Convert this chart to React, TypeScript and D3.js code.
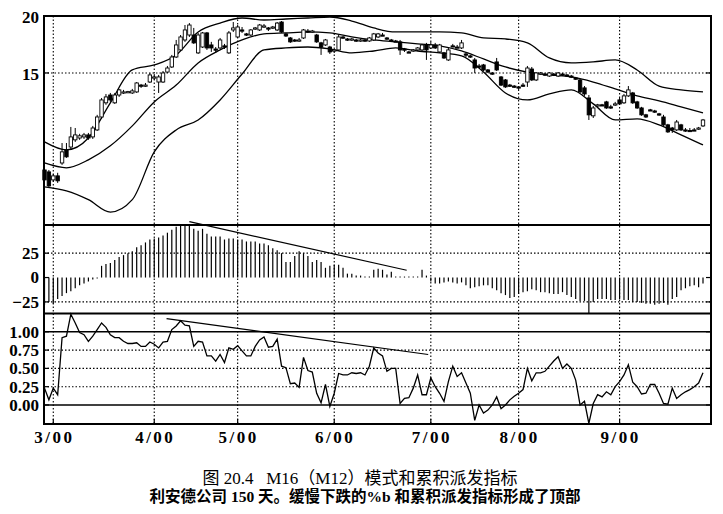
import React from "react";
import * as d3 from "d3";

// Daily bars, 150 sessions (end of Feb 2000 to end of Sep 2000)
const opens = [
  9.19, 9.10, 8.74, 8.92, 9.52, 10.17, 10.32, 10.70, 10.80, 10.86,
  10.97, 10.86, 11.25, 12.01, 12.90, 13.42, 12.90, 13.42, 13.56, 13.63,
  13.56, 13.63, 14.11, 14.04, 14.33, 14.62, 14.33, 14.33, 15.07, 15.46,
  16.26, 16.85, 17.72, 18.17, 18.17, 16.60, 17.10, 18.36, 17.28, 16.93,
  17.02, 17.20, 16.60, 18.64, 17.99, 18.64, 18.27, 18.17, 18.73, 18.64,
  18.92, 18.83, 18.83, 18.64, 19.40, 18.27, 17.90, 17.72, 17.63, 17.90,
  18.54, 18.45, 18.17, 17.46, 17.28, 17.10, 16.76, 16.85, 17.99, 17.81,
  17.72, 17.72, 17.63, 17.72, 17.63, 17.72, 17.99, 18.17, 17.90, 17.72,
  17.63, 17.55, 16.93, 16.68, 16.76, 16.85, 16.85, 17.28, 17.02, 17.28,
  16.68, 16.60, 16.02, 17.20, 17.10, 17.02, 16.51, 16.35, 16.02, 15.54,
  15.62, 15.23, 15.00, 15.86, 14.70, 14.48, 14.11, 14.04, 13.98, 14.11,
  14.33, 15.30, 14.48, 14.92, 14.92, 14.77, 14.92, 14.77, 14.92, 14.85,
  14.77, 14.62, 14.48, 13.91, 13.22, 12.08, 12.70, 12.77, 12.96, 12.64,
  12.77, 13.09, 12.90, 13.36, 13.56, 12.96, 12.57, 12.14, 12.45, 12.38,
  12.20, 12.01, 11.54, 11.36, 11.25, 11.54, 11.25, 11.22, 11.25, 11.31,
  11.48,
];
const highs = [
  9.29, 9.19, 9.01, 9.06, 10.53, 10.53, 11.42, 11.36, 11.03, 11.08,
  11.08, 11.48, 12.14, 13.22, 13.49, 13.56, 13.56, 13.84, 13.77, 13.70,
  13.84, 14.33, 14.19, 14.26, 15.00, 14.92, 14.85, 15.15, 15.54, 16.43,
  17.72, 18.17, 19.11, 19.30, 18.83, 18.36, 18.45, 18.45, 17.55, 17.10,
  17.90, 17.37, 18.54, 19.40, 19.11, 18.92, 18.36, 18.73, 18.92, 19.21,
  19.21, 18.92, 19.02, 19.40, 19.50, 18.36, 17.99, 17.81, 17.90, 18.73,
  18.73, 18.64, 18.27, 17.55, 17.81, 17.20, 16.93, 18.17, 18.08, 17.90,
  17.90, 17.81, 17.81, 17.81, 17.99, 18.36, 18.36, 18.36, 17.99, 17.81,
  17.72, 17.72, 17.02, 16.76, 16.93, 17.10, 17.37, 17.46, 17.55, 17.46,
  17.37, 16.68, 17.02, 17.37, 17.28, 17.72, 16.60, 16.43, 16.18, 15.70,
  15.70, 15.30, 15.07, 16.18, 14.77, 14.55, 14.19, 14.11, 14.04, 14.26,
  15.54, 15.46, 15.07, 15.07, 15.00, 15.07, 15.00, 15.07, 15.00, 14.92,
  14.85, 14.70, 14.55, 14.04, 13.42, 12.70, 12.83, 12.83, 13.03, 12.77,
  12.96, 13.22, 13.49, 14.04, 13.63, 13.03, 12.64, 12.20, 12.51, 12.45,
  12.26, 12.14, 11.60, 11.42, 11.83, 11.60, 11.36, 11.36, 11.36, 11.42,
  11.89,
];
const lows = [
  8.66, 8.40, 8.66, 8.61, 9.43, 9.77, 10.22, 10.59, 10.70, 10.75,
  10.70, 10.75, 11.19, 11.89, 12.77, 12.96, 12.83, 13.29, 13.49, 13.56,
  13.49, 13.56, 13.91, 13.98, 14.26, 14.48, 13.56, 14.26, 15.00, 15.38,
  16.18, 16.76, 17.55, 17.99, 17.37, 16.51, 17.02, 16.85, 16.68, 16.60,
  16.93, 16.93, 16.51, 18.45, 17.90, 18.36, 18.08, 18.08, 18.64, 18.54,
  18.83, 18.54, 18.73, 18.54, 18.36, 17.99, 17.46, 17.55, 17.55, 17.81,
  18.36, 18.36, 17.46, 16.43, 17.20, 16.51, 16.60, 16.76, 17.81, 17.63,
  17.63, 17.55, 17.55, 17.55, 17.55, 17.63, 17.90, 18.08, 17.72, 17.63,
  17.55, 16.43, 16.68, 16.60, 16.68, 16.76, 16.76, 16.02, 16.93, 16.93,
  16.60, 16.10, 15.94, 17.10, 17.02, 16.93, 16.26, 16.18, 15.00, 15.38,
  15.15, 15.00, 14.85, 15.15, 14.04, 13.91, 13.98, 13.91, 13.77, 13.98,
  13.98, 14.40, 14.40, 14.85, 14.77, 14.70, 14.77, 14.70, 14.77, 14.70,
  14.62, 14.48, 13.56, 13.36, 11.83, 11.95, 12.64, 12.70, 12.51, 12.51,
  12.70, 12.77, 12.83, 13.29, 12.83, 12.51, 12.08, 11.95, 12.38, 12.26,
  12.08, 11.48, 11.08, 11.08, 11.19, 11.19, 11.14, 11.14, 11.19, 11.25,
  11.42,
];
const closes = [
  8.74, 8.48, 8.92, 8.70, 10.07, 9.82, 10.86, 10.97, 10.92, 10.97,
  10.80, 11.36, 12.01, 13.09, 13.29, 13.09, 13.42, 13.77, 13.63, 13.65,
  13.70, 14.26, 14.04, 14.11, 14.85, 14.70, 14.70, 15.00, 15.38, 16.26,
  17.28, 17.99, 18.64, 19.11, 17.46, 18.17, 18.36, 17.02, 17.02, 16.85,
  17.72, 17.10, 18.36, 18.83, 18.92, 18.54, 18.17, 18.64, 18.83, 19.11,
  19.02, 18.73, 18.92, 19.30, 18.45, 18.08, 17.55, 17.63, 17.72, 18.64,
  18.45, 18.54, 17.55, 17.10, 17.72, 16.68, 16.85, 17.99, 17.90, 17.72,
  17.81, 17.63, 17.72, 17.63, 17.90, 18.27, 18.27, 18.15, 17.81, 17.70,
  17.60, 16.85, 16.85, 16.66, 16.85, 17.02, 17.28, 16.85, 17.28, 17.02,
  17.28, 16.18, 16.85, 17.18, 17.08, 17.46, 16.43, 16.26, 15.38, 15.46,
  15.23, 15.07, 14.92, 15.23, 14.11, 13.98, 14.04, 13.98, 13.91, 14.04,
  15.38, 14.48, 15.00, 15.00, 14.85, 15.00, 14.85, 15.00, 14.85, 14.77,
  14.70, 14.55, 13.63, 13.49, 12.14, 12.57, 12.77, 12.75, 12.57, 12.62,
  12.83, 12.83, 13.36, 13.77, 12.90, 12.57, 12.14, 12.01, 12.43, 12.32,
  12.14, 11.54, 11.14, 11.25, 11.71, 11.25, 11.19, 11.20, 11.23, 11.36,
  11.83,
];

// Bollinger bands, read every 5th session
const bandStep = 5;
const upperBand = [
  10.59, 10.17, 10.80, 12.90, 15.23, 15.62, 16.43, 18.45, 19.30, 19.80,
  19.60, 19.70, 19.80, 19.90, 19.50, 18.83, 18.45, 18.45, 18.45, 18.36,
  17.90, 17.81, 17.46, 16.18, 15.78, 15.86, 16.02, 15.23, 14.04, 13.77,
  13.63,
];
const middleBand = [
  9.52, 9.29, 9.67, 10.38, 11.48, 12.96, 14.11, 15.78, 16.85, 17.72,
  18.27, 18.36, 18.45, 18.36, 17.99, 17.72, 17.55, 17.37, 17.20, 16.76,
  16.10, 15.46, 15.07, 14.85, 14.70, 14.33, 13.84, 13.36, 13.03, 12.64,
  12.26,
];
const lowerBand = [
  8.44, 8.27, 7.91, 7.43, 7.91, 10.07, 11.25, 11.83, 13.09, 14.92,
  16.85, 17.02, 17.10, 16.93, 16.60, 16.76, 17.02, 16.76, 16.60, 16.35,
  15.07, 13.56, 13.09, 13.49, 13.77, 12.83, 11.83, 11.89, 11.54, 10.97,
  10.43,
];

// Accumulation / distribution oscillator
const adValues = [
  -28, -25, -27, -22, -19, -16, -14, -11, -8, -6, -4, -2, -1,
  12, 14, 15, 18, 21, 23, 25, 27, 31, 33, 36, 39, 40, 41, 43, 46, 49, 52, 54, 54, 54,
  50, 48, 50, 45, 42, 42, 42, 39, 40, 40, 39, 39, 37, 37, 37, 35, 35, 33, 30, 28,
  25, 16, 16, 22, 27, 25, 22, 16, 18, 16, 10, 12, 13, 13, 10, 4, 4, 2,
  2, 1, 1, 8, 9, 8, 3, 6, 1, 1,
  1, 1, 1, 1, 8, 2, -4, -6, -6, -5,
  -4, -5, -6, -5, -8, -11, -10, -9, -8, -8,
  -11, -13, -16, -18, -21, -20, -17, -15, -14, -12,
  -13, -15, -15, -16, -17, -17, -15, -18, -20, -22,
  -24, -24, -37, -25, -22, -22, -22, -23, -23, -22,
  -23, -23, -25, -25, -26, -27, -27, -28, -27, -26,
  -28, -22, -20, -13, -11, -9, -8, -10, -6,
];

// %b
const pctB = [
  0.23, 0.07, 0.23, 0.14, 0.92, 0.94, 1.24, 1.12, 0.99, 0.96,
  0.87, 0.94, 1.03, 1.12, 1.06, 0.96, 0.92, 0.92, 0.87, 0.84,
  0.84, 0.85, 0.80, 0.80, 0.86, 0.83, 0.78, 0.86, 0.87, 1.03,
  1.08, 1.15, 1.09, 1.08, 0.80, 0.87, 0.86, 0.67, 0.67, 0.60,
  0.69, 0.58, 0.78, 0.76, 0.81, 0.74, 0.67, 0.67, 0.80, 0.89,
  0.93, 0.79, 0.80, 0.90, 0.53, 0.51, 0.29, 0.30, 0.24, 0.65,
  0.47, 0.45, 0.16, 0.03, 0.28, -0.02, 0.16, 0.43, 0.41, 0.41,
  0.44, 0.43,
  0.44, 0.41, 0.53, 0.78, 0.71, 0.67, 0.46, 0.50, 0.50, 0.02,
  0.09, 0.10, 0.23, 0.41, 0.14, 0.14, 0.37, 0.25, 0.16, 0.05,
  0.32, 0.53, 0.39, 0.44, 0.30, 0.16, -0.21, 0.00, -0.11, -0.07,
  0.00, 0.11, -0.05, 0.00, 0.07, 0.12, 0.16, 0.21, 0.50, 0.33,
  0.44, 0.44, 0.46, 0.53, 0.60, 0.66, 0.50, 0.56, 0.50, 0.34,
  0.00, 0.05, -0.25, 0.02, 0.14, 0.11, 0.18, 0.14, 0.25, 0.32,
  0.41, 0.55, 0.31, 0.25, 0.15, 0.16, 0.28, 0.28, 0.16, 0.02,
  0.01, 0.23, 0.09, 0.14, 0.18, 0.21, 0.25, 0.30, 0.44,
];

// session index of the first trading day of each month
const monthIndex = [2, 25, 44, 66, 88, 108, 131];
const monthLabels = ["3/00", "4/00", "5/00", "6/00", "7/00", "8/00", "9/00"];
const priceTicks = [20, 15];
const adTicks = [25, 0, -25];
const pctTicks = [1.0, 0.75, 0.5, 0.25, 0.0];

// hand-drawn divergence lines [session, value]
const adTrend: [number, number][] = [[33, 57.3], [82.5, 7.5]];
const pctTrend: [number, number][] = [[27.8, 1.18], [87.4, 0.69]];

const title = "图 20.4   M16（M12）模式和累积派发指标";
const subtitle = "利安德公司 150 天。缓慢下跌的%b 和累积派发指标形成了顶部";

const serif = "'Liberation Serif', 'DejaVu Serif', serif";
const cjk = "'Liberation Serif', 'Noto Sans CJK SC', serif";

export default function App() {
  const width = 723;
  const height = 514;
  const left = 44;
  const right = 711;
  const top = 16;
  const split1 = 225;
  const split2 = 313.5;
  const bottom = 424;

  const x = d3.scaleLinear().domain([0, 150]).range([44.5, 703]);
  const yPrice = d3.scaleLog().domain([6.96, 20]).range([split1, top]);
  const yAD = d3.scaleLinear().domain([-36.9, 53.9]).range([split2, split1]);
  const yPct = d3.scaleLinear().domain([-0.26, 1.25]).range([bottom, split2]);

  const band = d3.line<number>()
    .x((_, i) => x(i * bandStep))
    .y(d => yPrice(d))
    .curve(d3.curveMonotoneX);

  const pctLine = d3.line<number>()
    .x((_, i) => x(i))
    .y(d => yPct(d));

  const labelStyle = {
    fontFamily: serif,
    fontSize: 17,
    fontWeight: "bold" as const,
  };

  const dotted = { stroke: "#000", strokeWidth: 1.1, strokeDasharray: "1.5 2" };

  return (
    <svg
      width={width}
      height={height}
      style={{ position: "absolute", left: 0, top: 0, background: "#fff" }}
    >
      <rect x={0} y={0} width={width} height={height} fill="#fff" />

      {/* month grid */}
      {monthIndex.map((m, i) => (
        <line key={"vg" + i} x1={x(m)} x2={x(m)} y1={top} y2={bottom} {...dotted} />
      ))}

      {/* horizontal grid */}
      <line x1={left} x2={right} y1={yPrice(15)} y2={yPrice(15)} {...dotted} />
      {[25, -25].map(v => (
        <line key={"ag" + v} x1={left} x2={right} y1={yAD(v)} y2={yAD(v)} {...dotted} />
      ))}
      {[0.75, 0.5, 0.25].map(v => (
        <line key={"pg" + v} x1={left} x2={right} y1={yPct(v)} y2={yPct(v)} {...dotted} />
      ))}
      {[1, 0].map(v => (
        <line key={"ps" + v} x1={left} x2={right} y1={yPct(v)} y2={yPct(v)} stroke="#000" strokeWidth={1.6} />
      ))}

      {/* bands */}
      {[upperBand, middleBand, lowerBand].map((b, i) => (
        <path key={"band" + i} d={band(b) || ""} fill="none" stroke="#000" strokeWidth={1.3} />
      ))}

      {/* candles */}
      {closes.map((c, i) => {
        const o = opens[i];
        const cx = x(i);
        const yTop = yPrice(Math.max(o, c));
        const yBot = yPrice(Math.min(o, c));
        const up = c >= o;
        return (
          <g key={"c" + i}>
            <line x1={cx} x2={cx} y1={yPrice(highs[i])} y2={yPrice(lows[i])} stroke="#000" strokeWidth={1} />
            <rect
              x={cx - 1.7}
              y={yTop}
              width={3.4}
              height={Math.max(1.2, yBot - yTop)}
              fill={up ? "#fff" : "#000"}
              stroke="#000"
              strokeWidth={0.9}
            />
          </g>
        );
      })}

      {/* A/D histogram */}
      {adValues.map((v, i) => (
        <line key={"h" + i} x1={x(i)} x2={x(i)} y1={yAD(0)} y2={yAD(v)} stroke="#000" strokeWidth={1.2} />
      ))}
      <line
        x1={x(adTrend[0][0])} y1={yAD(adTrend[0][1])}
        x2={x(adTrend[1][0])} y2={yAD(adTrend[1][1])}
        stroke="#000" strokeWidth={1.2}
      />

      {/* %b */}
      <path d={pctLine(pctB) || ""} fill="none" stroke="#000" strokeWidth={1.3} />
      <line
        x1={x(pctTrend[0][0])} y1={yPct(pctTrend[0][1])}
        x2={x(pctTrend[1][0])} y2={yPct(pctTrend[1][1])}
        stroke="#000" strokeWidth={1.2}
      />

      {/* frame */}
      <rect x={left} y={top} width={right - left} height={bottom - top} fill="none" stroke="#000" strokeWidth={2} />
      <line x1={left} x2={right} y1={split1} y2={split1} stroke="#000" strokeWidth={2} />
      <line x1={left} x2={right} y1={split2} y2={split2} stroke="#000" strokeWidth={2} />

      {/* ticks on both sides */}
      {[
        ...priceTicks.map(v => yPrice(v)),
        ...adTicks.map(v => yAD(v)),
        ...pctTicks.map(v => yPct(v)),
      ].map((yy, i) => (
        <g key={"t" + i}>
          <line x1={left} x2={left + 5} y1={yy} y2={yy} stroke="#000" strokeWidth={1.2} />
          <line x1={right - 5} x2={right} y1={yy} y2={yy} stroke="#000" strokeWidth={1.2} />
        </g>
      ))}
      {monthIndex.map((m, i) => (
        <line key={"xt" + i} x1={x(m)} x2={x(m)} y1={bottom - 5} y2={bottom} stroke="#000" strokeWidth={1.2} />
      ))}

      {/* axis labels */}
      {priceTicks.map(v => (
        <text key={"pl" + v} x={39} y={yPrice(v) + 1.5} dy="0.35em" textAnchor="end" {...labelStyle}>
          {v}
        </text>
      ))}
      {adTicks.map(v => (
        <text key={"al" + v} x={39} y={yAD(v)} dy="0.35em" textAnchor="end" {...labelStyle}>
          {v < 0 ? "\u2212" + Math.abs(v) : v}
        </text>
      ))}
      {pctTicks.map(v => (
        <text key={"ql" + v} x={39} y={yPct(v)} dy="0.35em" textAnchor="end" {...labelStyle}>
          {d3.format(".2f")(v)}
        </text>
      ))}
      {monthIndex.map((m, i) => (
        <text key={"ml" + i} x={x(m) + 1} y={443} textAnchor="middle" letterSpacing={2.5} {...labelStyle}>
          {monthLabels[i]}
        </text>
      ))}

      {/* caption */}
      <text
        x={360} y={484} textAnchor="middle" fontFamily={cjk} fontSize={17}
        style={{ whiteSpace: "pre" }}
      >
        {title}
      </text>
      <text x={365} y={502} textAnchor="middle" fontFamily={cjk} fontSize={15.5} fontWeight="bold">
        {subtitle}
      </text>
    </svg>
  );
}
